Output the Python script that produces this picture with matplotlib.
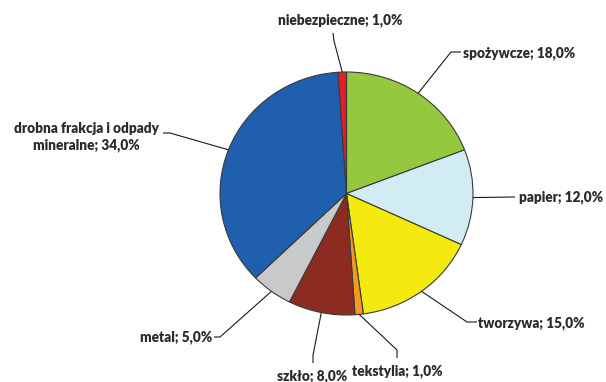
import numpy as np
import matplotlib
matplotlib.use("Agg")
import matplotlib.pyplot as plt

# Waste composition shares (%)
categories = ["spożywcze", "papier", "tworzywa", "tekstylia", "szkło", "metal",
              "drobna frakcja i odpady\nmineralne", "niebezpieczne"]
values = [18.0, 12.0, 15.0, 1.0, 8.0, 5.0, 34.0, 1.0]
colors = ["#93C83F", "#D1ECF2", "#F4EA10", "#F39A1F", "#8C2B1F", "#C8C9CA",
          "#1F5FAD", "#E61E2A"]

W, H = 606, 382
fig = plt.figure(figsize=(W / 100, H / 100), dpi=100)

# pie geometry in pixels (slightly wider than tall)
cx, cy, rx, ry = 346.5, 193.5, 126.5, 121.5
ax = fig.add_axes([(cx - rx) / W, 1 - (cy + ry) / H, 2 * rx / W, 2 * ry / H])
wedges, _ = ax.pie(values, colors=colors, startangle=90, counterclock=False,
                   wedgeprops=dict(edgecolor="#3a3a3a", linewidth=0.8))
ax.set_aspect("auto")
ax.set_xlim(-1, 1)
ax.set_ylim(-1, 1)
ax.axis("off")

# overlay in pixel coordinates for labels and leader lines
ov = fig.add_axes([0, 0, 1, 1])
ov.set_xlim(0, W)
ov.set_ylim(H, 0)
ov.axis("off")

font = dict(family=["Lato", "DejaVu Sans"], fontweight="heavy", fontsize=9.8,
            color="#2b2b2b")

# per slice: leader path after the wedge edge, text anchor and alignment
layout = [
    ([(451, 52), (461, 52)], (463, 53), "left"),
    ([(515, 197)], (519, 197), "left"),
    ([(467, 322), (477, 322)], (478, 323), "left"),
    ([(397, 350), (397, 358)], (397, 371), "center"),
    ([(313, 355), (313, 363)], (312, 376), "center"),
    ([(220, 337), (214, 337)], (212, 337), "right"),
    ([(170, 133), (163, 133)], (86, 137), "center"),
    ([(334, 41), (333, 33)], (340, 20), "center"),
]

for w, name, val, (path, (tx, ty), ha) in zip(wedges, categories, values, layout):
    mid = np.deg2rad((w.theta1 + w.theta2) / 2)
    sx, sy = cx + rx * np.cos(mid), cy - ry * np.sin(mid)
    xs = [sx] + [p[0] for p in path]
    ys = [sy] + [p[1] for p in path]
    ov.plot(xs, ys, color="#1a1a1a", lw=0.8, solid_capstyle="butt")
    label = f"{name}; {val:.1f}%".replace(".", ",")
    ov.text(tx, ty, label, ha=ha, va="center", multialignment="center",
            linespacing=1.35, **font)

fig.savefig("out.png", dpi=100)
